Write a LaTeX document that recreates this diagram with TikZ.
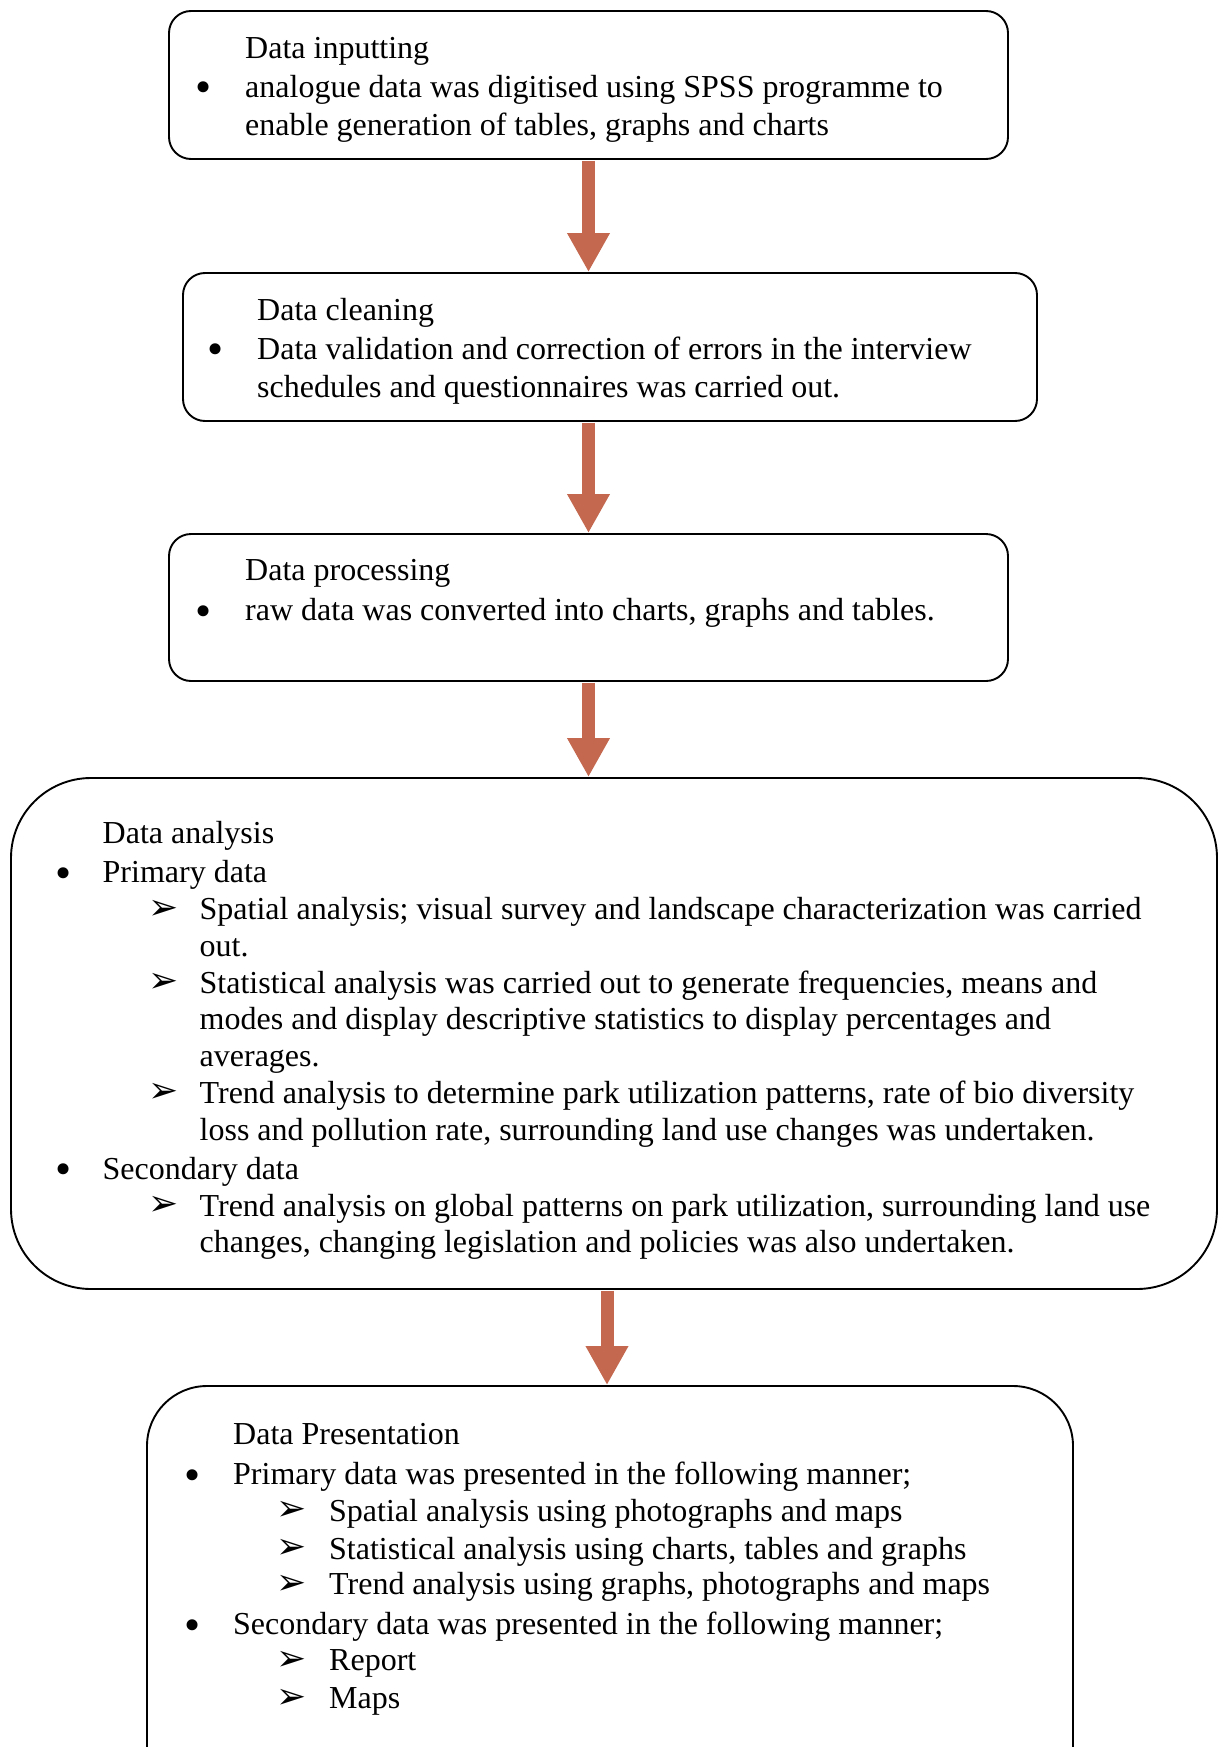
\documentclass[tikz,border=0pt]{standalone}
\usepackage{fontspec}
\setmainfont{Liberation Serif}
\newfontfamily\symfont{DejaVu Sans}
\usetikzlibrary{arrows.meta}

\definecolor{flowarrow}{RGB}{196,104,79}

\tikzset{
  stage/.style={draw=black, line width=1.9pt, rounded corners=#1, inner sep=0pt, fill=white},
  txt/.style={anchor=base west, inner sep=0pt, font=\fontsize{32}{38}\selectfont, yshift=-2.5pt},
  dot/.style={anchor=base, inner sep=0pt, font=\fontsize{46}{50}\selectfont, yshift=-8pt},
  tick/.style={anchor=base, inner sep=0pt, font=\fontsize{36}{40}\selectfont\symfont, yshift=-2pt},
  flow/.style={draw=flowarrow, line width=13pt,
    -{Triangle[width=40pt,length=39pt]}, shorten <=1pt}
}

% one line of text: name, x, baseline y, text
\newcommand{\tline}[4]{\node[txt] (#1) at (#2,#3) {#4};}
\newcommand{\tdot}[3]{\node[dot] (#1) at (#2,#3) {\textbullet};}
\newcommand{\tarr}[3]{\node[tick] (#1) at (#2,#3) {➢};}

\begin{document}
\begin{tikzpicture}[x=1pt,y=-1pt]
\useasboundingbox (0,0) rectangle (1219,1747);
\clip (0,0) rectangle (1219,1747);
\fill[white] (0,0) rectangle (1219,1747);

% stage boxes
\node[stage=22pt, minimum width=839pt, minimum height=148pt] (b1) at (588.5,85) {};
\node[stage=22pt, minimum width=854pt, minimum height=148pt] (b2) at (610,347) {};
\node[stage=22pt, minimum width=839pt, minimum height=147pt] (b3) at (588.5,607.5) {};
\node[stage=80pt, minimum width=1206pt, minimum height=511pt] (b4) at (614,1033.5) {};
\node[stage=60pt, minimum width=926pt, minimum height=500pt] (b5) at (610,1636) {};

% connectors
\draw[flow] (b1.south) -- (b1.south |- b2.north);
\draw[flow] (b1.south |- b2.south) -- (b1.south |- b3.north);
\draw[flow] (b3.south) -- (b3.south |- b4.north);
\draw[flow] (607,0 |- b4.south) coordinate (a4s) -- (a4s |- b5.north);

% Data inputting
\tline{i0}{245}{55.7}{Data inputting}
\tdot{i1d}{204}{94.7}
\tline{i1}{245}{94.7}{analogue data was digitised using SPSS programme to}
\tline{i2}{245}{132.6}{enable generation of tables, graphs and charts}

% Data cleaning
\tline{c0}{257}{317.6}{Data cleaning}
\tdot{c1d}{216}{356.6}
\tline{c1}{257}{356.6}{Data validation and correction of errors in the interview}
\tline{c2}{257}{394.5}{schedules and questionnaires was carried out.}

% Data processing
\tline{p0}{245}{578.3}{Data processing}
\tdot{p1d}{204}{618.4}
\tline{p1}{245}{618.4}{raw data was converted into charts, graphs and tables.}

% Data analysis
\tline{a0}{102.5}{841.3}{Data analysis}
\tdot{a1d}{63.5}{880.3}
\tline{a1}{102.5}{880.3}{Primary data}
\tarr{a2m}{163.5}{917.1}
\tline{a2}{199.5}{917.1}{Spatial analysis; visual survey and landscape characterization was carried}
\tline{a3}{199.5}{953.8}{out.}
\tarr{a4m}{163.5}{990.6}
\tline{a4}{199.5}{990.6}{Statistical analysis was carried out to generate frequencies, means and}
\tline{a5}{199.5}{1027.4}{modes and display descriptive statistics to display percentages and}
\tline{a6}{199.5}{1064.2}{averages.}
\tarr{a7m}{163.5}{1100.9}
\tline{a7}{199.5}{1100.9}{Trend analysis to determine park utilization patterns, rate of bio diversity}
\tline{a8}{199.5}{1137.7}{loss and pollution rate, surrounding land use changes was undertaken.}
\tdot{a9d}{63.5}{1176.7}
\tline{a9}{102.5}{1176.7}{Secondary data}
\tarr{a10m}{163.5}{1213.5}
\tline{a10}{199.5}{1213.5}{Trend analysis on global patterns on park utilization, surrounding land use}
\tline{a11}{199.5}{1250.2}{changes, changing legislation and policies was also undertaken.}

% Data Presentation
\tline{d0}{233}{1441.9}{Data Presentation}
\tdot{d1d}{193}{1482.0}
\tline{d1}{233}{1482.0}{Primary data was presented in the following manner;}
\tarr{d2m}{292}{1518.8}
\tline{d2}{329}{1518.8}{Spatial analysis using photographs and maps}
\tarr{d3m}{292}{1556.7}
\tline{d3}{329}{1556.7}{Statistical analysis using charts, tables and graphs}
\tarr{d4m}{292}{1592.3}
\tline{d4}{329}{1592.3}{Trend analysis using graphs, photographs and maps}
\tdot{d5d}{193}{1632.4}
\tline{d5}{233}{1632.4}{Secondary data was presented in the following manner;}
\tarr{d6m}{292}{1668.1}
\tline{d6}{329}{1668.1}{Report}
\tarr{d7m}{292}{1706.0}
\tline{d7}{329}{1706.0}{Maps}
\end{tikzpicture}
\end{document}
